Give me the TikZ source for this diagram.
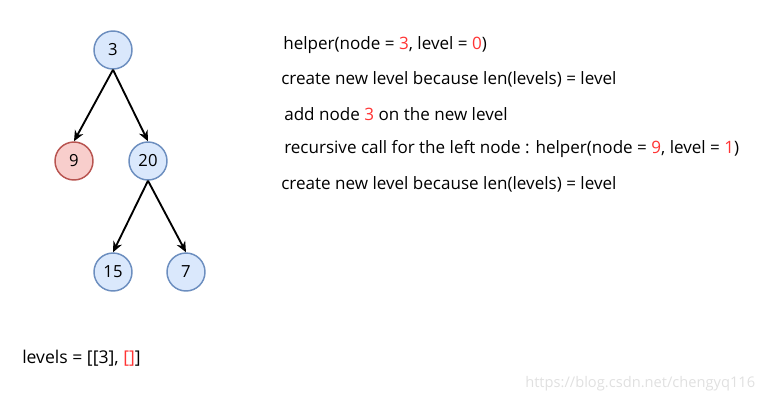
\documentclass[tikz,border=0pt]{standalone}
\usepackage{fontspec}
\setmainfont{Open Sans}
\usetikzlibrary{arrows.meta}
\definecolor{bfill}{HTML}{DAE8FC}
\definecolor{bdraw}{HTML}{6C8EBF}
\definecolor{rfill}{HTML}{F8CECC}
\definecolor{rdraw}{HTML}{B85450}
\definecolor{hl}{HTML}{FF3333}
\begin{document}
\begin{tikzpicture}[x=0.75pt,y=-0.75pt,
  tnode/.style={circle,draw=bdraw,fill=bfill,line width=1.1pt,minimum size=28.5pt,inner sep=0pt,font=\fontsize{12.5}{14}\selectfont},
  rnode/.style={tnode,draw=rdraw,fill=rfill},
  edge/.style={-{Stealth[length=8pt,width=7pt]},line width=1.4pt,black},
  txt/.style={anchor=west,inner sep=0pt,font=\fontsize{12.8}{15}\selectfont}]
\useasboundingbox (0,0) rectangle (762,401);
\node[tnode] (n3) at (113,50) {3};
\node[rnode] (n9) at (74,161) {9};
\node[tnode] (n20) at (148,161) {20};
\node[tnode] (n15) at (113,272) {15};
\node[tnode] (n7) at (186,272) {7};
\draw[edge] (n3.south) -- (n9.north);
\draw[edge] (n3.south) -- (n20.north);
\draw[edge] (n20.south) -- (n15.north);
\draw[edge] (n20.south) -- (n7.north);
\node[txt] (l1) at (283,45) {helper(node = \textcolor{hl}{3}, level = \textcolor{hl}{0})};
\node[txt] (l2) at (281,79) {create new level because len(levels) = level};
\node[txt] (l3) at (284,114) {add node \textcolor{hl}{3} on the new level};
\node[txt] (l4) at (284,149) {recursive call for the left node : helper(node = \textcolor{hl}{9}, level = \textcolor{hl}{1})};
\node[txt] (l5) at (281,184) {create new level because len(levels) = level};
\node[txt,font=\fontsize{13.2}{15}\selectfont] (lv) at (22,358) {levels = [[3], \textcolor{hl}{[]}]};
\node[anchor=west,inner sep=0pt,text=black!12,font=\fontsize{11}{12}\selectfont] (wm) at (525,384) {https://blog.csdn.net/chengyq116};
\end{tikzpicture}
\end{document}
